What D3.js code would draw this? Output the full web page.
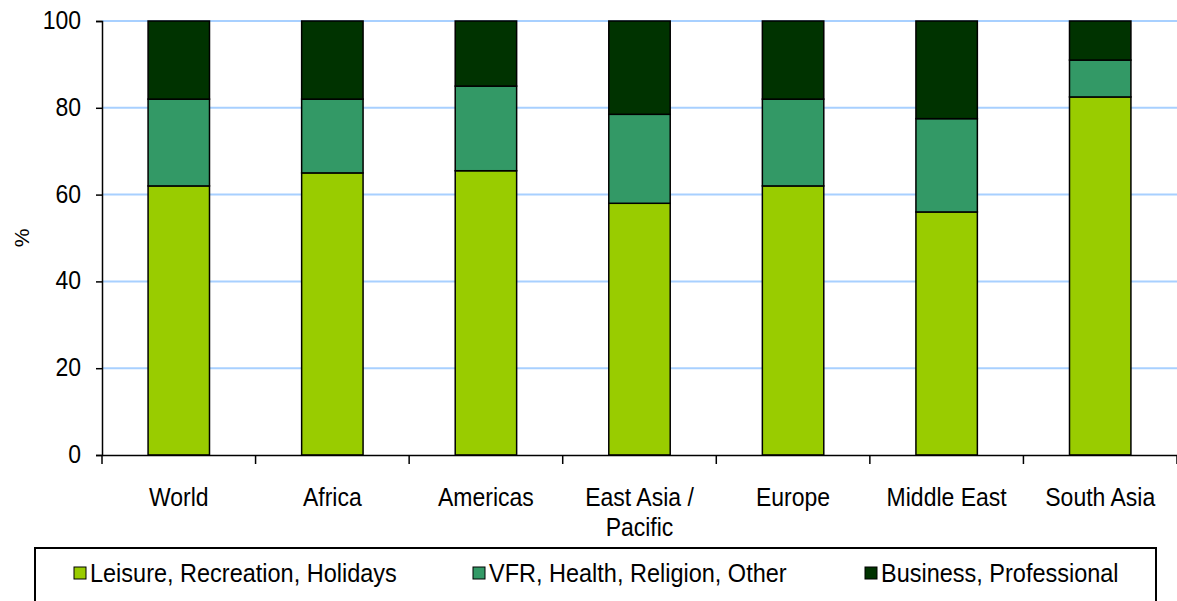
<!DOCTYPE html>
<html>
<head>
<meta charset="utf-8">
<script src="https://cdn.jsdelivr.net/npm/d3@7"></script>
<style>
  body { margin: 0; background: #fff; }
  svg { display: block; }
  text { font-family: "Liberation Sans", Arial, sans-serif; fill: #000; }
</style>
</head>
<body>
<svg id="chart" width="1177" height="601"></svg>
<script>
// regions along the x axis
var regions = ["World", "Africa", "Americas", "East Asia / Pacific", "Europe", "Middle East", "South Asia"];
// share of arrivals by purpose of visit, %
var leisure  = [62, 65, 65.5, 58, 62, 56, 82.5];
var vfr      = [20, 17, 19.5, 20.5, 20, 21.5, 8.5];
var business = [18, 18, 15, 21.5, 18, 22.5, 9];
var seriesNames = ["Leisure, Recreation, Holidays", "VFR, Health, Religion, Other", "Business, Professional"];
var seriesColors = ["#99cc00", "#339966", "#003300"];
var yTicks = [0, 20, 40, 60, 80, 100];

var svg = d3.select("#chart");
var plotLeft = 102, plotRight = 1177, plotTop = 21, plotBottom = 455;

var x = d3.scaleBand().domain(regions).range([plotLeft, plotRight]).padding(0);
var y = d3.scaleLinear().domain([0, 100]).range([plotBottom, plotTop]);

var rows = regions.map(function (r, i) {
    return { region: r, leisure: leisure[i], vfr: vfr[i], business: business[i] };
});
var layers = d3.stack().keys(["leisure", "vfr", "business"])(rows);

// grid lines
svg.append("g").selectAll("line")
    .data(yTicks.filter(function (d) { return d > 0; }))
    .enter().append("line")
    .attr("x1", plotLeft).attr("x2", plotRight)
    .attr("y1", function (d) { return y(d); })
    .attr("y2", function (d) { return y(d); })
    .attr("stroke", "#a8d0ff")
    .attr("stroke-width", 2);

// bars
var barW = x.bandwidth() * 0.4;
svg.append("g").selectAll("g")
    .data(layers)
    .enter().append("g")
    .attr("fill", function (d, i) { return seriesColors[i]; })
    .selectAll("rect")
    .data(function (d) { return d; })
    .enter().append("rect")
    .attr("x", function (d) { return x(d.data.region) + (x.bandwidth() - barW) / 2; })
    .attr("y", function (d) { return y(d[1]); })
    .attr("width", barW)
    .attr("height", function (d) { return y(d[0]) - y(d[1]); })
    .attr("stroke", "#000")
    .attr("stroke-width", 1.5);

// y axis
var yAxis = svg.append("g")
    .attr("transform", "translate(" + plotLeft + ",0)")
    .call(d3.axisLeft(y).tickValues(yTicks).tickSize(6).tickPadding(15));
yAxis.select(".domain").attr("stroke", "#000").attr("stroke-width", 1.5);
yAxis.selectAll(".tick line").attr("stroke", "#000").attr("stroke-width", 1.5);
yAxis.selectAll("text")
    .style("font-size", "23px")
    .style("font-family", "Liberation Sans, Arial, sans-serif")
    .attr("transform", "scale(1,1.15)")
    .attr("dy", "0.28em");

// x axis
var xAxis = svg.append("g")
    .attr("transform", "translate(0," + plotBottom + ")")
    .call(d3.axisBottom(x).tickSize(0).tickPadding(0).tickFormat(""));
xAxis.select(".domain").attr("stroke", "#000").attr("stroke-width", 1.5);

// boundary ticks between categories
svg.append("g").selectAll("line")
    .data(d3.range(regions.length + 1))
    .enter().append("line")
    .attr("x1", function (i) { return plotLeft + i * x.step(); })
    .attr("x2", function (i) { return plotLeft + i * x.step(); })
    .attr("y1", plotBottom).attr("y2", plotBottom + 9)
    .attr("stroke", "#000").attr("stroke-width", 1.5);

// category labels (wrapped after "/")
svg.append("g").selectAll("text")
    .data(regions)
    .enter().append("text")
    .attr("text-anchor", "middle")
    .attr("transform", function (d) {
        return "translate(" + (x(d) + x.bandwidth() / 2) + "," + (plotBottom + 51) + ") scale(1,1.15)";
    })
    .style("font-size", "23px")
    .each(function (d) {
        var parts = d.indexOf(" / ") >= 0 ? [d.split(" / ")[0] + " /", d.split(" / ")[1]] : [d];
        var t = d3.select(this);
        parts.forEach(function (p, i) {
            t.append("tspan")
                .attr("x", 0)
                .attr("dy", i === 0 ? 0 : 26)
                .text(p);
        });
    });

// y axis title
svg.append("text")
    .attr("transform", "translate(29,238) rotate(-90)")
    .attr("text-anchor", "middle")
    .style("font-size", "21px")
    .text("%");

// legend
var legend = svg.append("g");
legend.append("rect")
    .attr("x", 35).attr("y", 548)
    .attr("width", 1121).attr("height", 80)
    .attr("fill", "#fff")
    .attr("stroke", "#000").attr("stroke-width", 2);
var legendX = [74, 473, 865];
var items = legend.selectAll("g.item")
    .data(seriesNames)
    .enter().append("g")
    .attr("class", "item")
    .attr("transform", function (d, i) { return "translate(" + legendX[i] + ",567)"; });
items.append("rect")
    .attr("width", 12).attr("height", 12)
    .attr("fill", function (d, i) { return seriesColors[i]; })
    .attr("stroke", "#000").attr("stroke-width", 1);
items.append("text")
    .attr("transform", "translate(16,15) scale(1,1.1)")
    .style("font-size", "23.5px")
    .text(function (d) { return d; });
</script>
</body>
</html>
